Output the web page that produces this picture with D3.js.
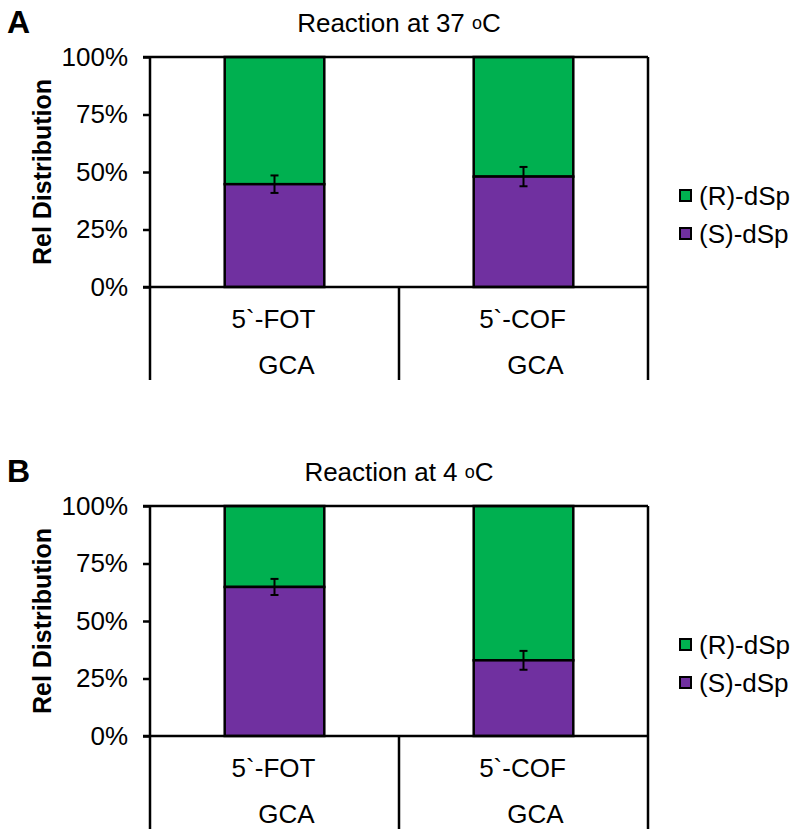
<!DOCTYPE html>
<html>
	<head>
		<meta charset="utf-8">
		<style>
			body { margin: 0; background: #fff; }
			text { font-family: "Liberation Sans", Arial, sans-serif; }
		</style>
	</head>
	<body>
		<script src="https://cdn.jsdelivr.net/npm/d3@7/dist/d3.min.js"></script>
		<script>
			// data
			var categories = ["5`-FOT", "5`-COF"];
			var subLabels = ["GCA", "GCA"];
			var seriesNames = ["(R)-dSp", "(S)-dSp"];
			var panelLetters = ["A", "B"];
			var panelTemps = ["37", "4"];
			// (S)-dSp share per panel, remainder is (R)-dSp
			var sA = [0.447, 0.48];
			var sB = [0.648, 0.329];
			var errA = [0.038, 0.042];
			var errB = [0.035, 0.041];
			var yTicks = [0, 0.25, 0.5, 0.75, 1];

			var green = "#00b050";
			var purple = "#7030a0";

			var width = 800;
			var height = 838;
			var svg = d3.select("body")
						.append("svg")
						.attr("width", width)
						.attr("height", height);

			var left = 150, right = 648;
			var x = d3.scaleBand().domain(categories).range([left, right]);
			var barW = x.bandwidth() * 0.4;
			var fmt = d3.format(".0%");
			var fs = "26px";

			function drawPanel(idx, sVals, errs, offset) {
				var g = svg.append("g").attr("transform", "translate(0," + offset + ")");
				var y = d3.scaleLinear().domain([0, 1]).range([287, 57]);

				// panel letter
				g.append("text")
					.attr("x", 7).attr("y", 33)
					.attr("font-size", "32px").attr("font-weight", "bold")
					.text(panelLetters[idx]);

				// title
				var t = g.append("text")
					.attr("x", 399).attr("y", 32)
					.attr("text-anchor", "middle")
					.attr("font-size", fs);
				t.append("tspan").text("Reaction at " + panelTemps[idx] + " ");
				t.append("tspan").attr("font-size", "18px").attr("dy", "-3").text("o");
				t.append("tspan").attr("dy", "3").text("C");

				// bars: stacked S (bottom) and R (top)
				categories.forEach(function(c, i) {
					var cx = x(c) + x.bandwidth() / 2;
					g.append("rect")
						.attr("x", cx - barW / 2).attr("y", y(1))
						.attr("width", barW).attr("height", y(sVals[i]) - y(1))
						.attr("fill", green).attr("stroke", "#000").attr("stroke-width", 2.5);
					g.append("rect")
						.attr("x", cx - barW / 2).attr("y", y(sVals[i]))
						.attr("width", barW).attr("height", y(0) - y(sVals[i]))
						.attr("fill", purple).attr("stroke", "#000").attr("stroke-width", 2.5);
					// error bar
					var y1 = y(sVals[i] + errs[i]), y2 = y(sVals[i] - errs[i]);
					g.append("line").attr("x1", cx).attr("x2", cx).attr("y1", y1).attr("y2", y2)
						.attr("stroke", "#000").attr("stroke-width", 2);
					g.append("line").attr("x1", cx - 4).attr("x2", cx + 4).attr("y1", y1).attr("y2", y1)
						.attr("stroke", "#000").attr("stroke-width", 2);
					g.append("line").attr("x1", cx - 4).attr("x2", cx + 4).attr("y1", y2).attr("y2", y2)
						.attr("stroke", "#000").attr("stroke-width", 2);

					// category labels
					g.append("text")
						.attr("x", cx - 1).attr("y", 328)
						.attr("text-anchor", "middle").attr("font-size", fs)
						.text(c);
					g.append("text")
						.attr("x", cx + 12).attr("y", 374)
						.attr("text-anchor", "middle").attr("font-size", fs)
						.text(subLabels[i]);
				});

				// plot frame lines at 100% and 0%
				g.append("line").attr("x1", left - 7).attr("x2", right).attr("y1", y(1)).attr("y2", y(1))
					.attr("stroke", "#000").attr("stroke-width", 2.5);
				g.append("line").attr("x1", left - 7).attr("x2", right).attr("y1", y(0)).attr("y2", y(0))
					.attr("stroke", "#000").attr("stroke-width", 2.5);

				// y axis
				var axis = g.append("g")
					.attr("transform", "translate(" + left + ",0)")
					.call(d3.axisLeft(y).tickValues(yTicks).tickFormat(fmt).tickSize(7).tickPadding(15));
				axis.select(".domain").remove();
				axis.selectAll(".tick line").attr("stroke", "#000").attr("stroke-width", 2.5);
				axis.selectAll(".tick text")
					.attr("font-family", "Liberation Sans, Arial, sans-serif")
					.attr("font-size", fs).attr("fill", "#000");

				// vertical lines: axis continued into category box, separator, right
				[left, x(categories[1]), right].forEach(function(vx, k) {
					g.append("line").attr("x1", vx).attr("x2", vx)
						.attr("y1", k == 1 ? y(0) : y(1)).attr("y2", 380)
						.attr("stroke", "#000").attr("stroke-width", 2.5);
				});

				// y label
				g.append("text")
					.attr("transform", "translate(51," + 172 + ") rotate(-90)")
					.attr("text-anchor", "middle").attr("font-size", "25px").attr("font-weight", "bold")
					.text("Rel Distribution");

				// legend
				var colors = [green, purple];
				seriesNames.forEach(function(name, k) {
					var ly = 196 + k * 38;
					g.append("rect")
						.attr("x", 680).attr("y", ly - 6)
						.attr("width", 11).attr("height", 11)
						.attr("fill", colors[k]).attr("stroke", "#000").attr("stroke-width", 2);
					g.append("text")
						.attr("x", 699).attr("y", ly + 9)
						.attr("font-size", fs)
						.text(name);
				});
			}

			drawPanel(0, sA, errA, 0);
			drawPanel(1, sB, errB, 449);
		</script>
	</body>
</html>
